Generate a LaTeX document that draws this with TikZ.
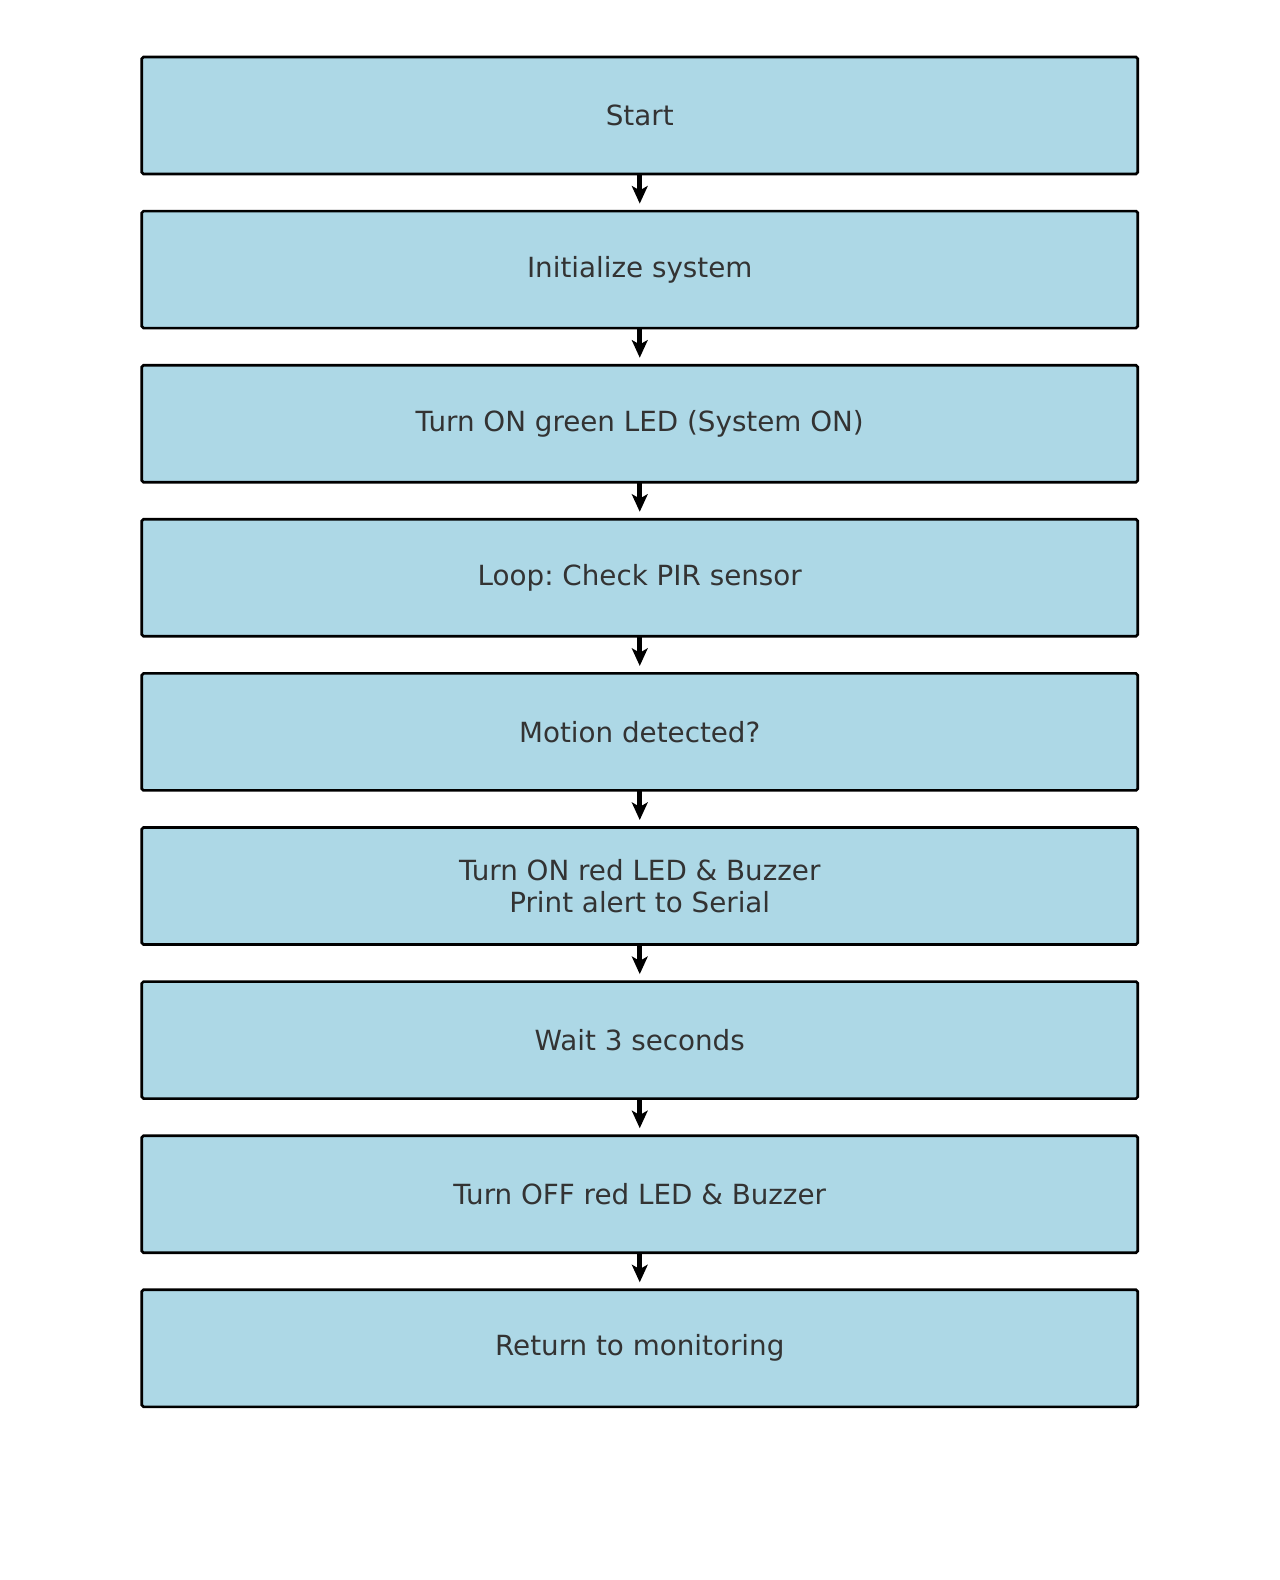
\documentclass[tikz,border=0pt]{standalone}
\usepackage{fontspec}
\setmainfont{DejaVu Sans}
\usetikzlibrary{positioning, arrows.meta}

\definecolor{boxblue}{HTML}{ADD8E6}
\definecolor{textgray}{HTML}{333333}
\frenchspacing

\begin{document}
\begin{tikzpicture}[
    stepbox/.style={draw=black, fill=boxblue, line width=1.5pt, rounded corners=1pt,
        minimum width=19.92cm, minimum height=2.34cm, align=center,
        text=textgray, font=\fontsize{15.8}{18.2}\selectfont, inner sep=0pt, outer sep=0pt},
    flow/.style={-{Stealth[length=10pt, width=9pt, inset=2.5pt]}, line width=2.6pt, shorten >=0.15cm},
    node distance=0.742cm]
    \useasboundingbox (0,0) rectangle (25.6,-31.6);
    \node[stepbox] (start) at (12.795,-2.31) {Start};
    \node[stepbox, below=of start] (init) {Initialize system};
    \node[stepbox, below=of init] (green) {Turn ON green LED (System ON)};
    \node[stepbox, below=of green] (check) {Loop: Check PIR sensor};
    \node[stepbox, below=of check] (motion) {Motion detected?};
    \node[stepbox, below=of motion] (alarm) {Turn ON red LED \& Buzzer\\Print alert to Serial};
    \node[stepbox, below=of alarm] (wait) {Wait 3 seconds};
    \node[stepbox, below=of wait] (off) {Turn OFF red LED \& Buzzer};
    \node[stepbox, below=of off] (ret) {Return to monitoring};
    % arrows between the steps
    \foreach \a/\b in {start/init, init/green, green/check, check/motion, motion/alarm, alarm/wait, wait/off, off/ret}
        \draw[flow] (\a) -- (\b);
\end{tikzpicture}
\end{document}
